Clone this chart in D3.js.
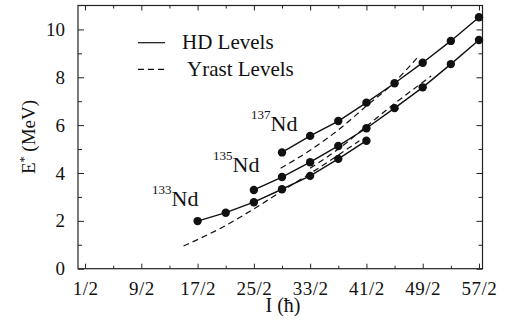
<!DOCTYPE html>
<html>
<head>
<meta charset="utf-8">
<script src="https://cdn.jsdelivr.net/npm/d3@7"></script>
<style>
  body { margin: 0; background: #fff; }
  svg { display: block; }
  svg text { font-family: "Liberation Serif", "Times New Roman", Times, "DejaVu Serif", "Noto Serif", serif; fill: #111; }
</style>
</head>
<body>
<svg id="canvas"></svg>
<script>
// Tick positions and labels (spin in units of hbar).
var xTicks = [0.5, 4.5, 8.5, 12.5, 16.5, 20.5, 24.5, 28.5];
var xTickLabels = ['1/2', '9/2', '17/2', '25/2', '33/2', '41/2', '49/2', '57/2'];
var xMinorTicks = [2.5, 6.5, 10.5, 14.5, 18.5, 22.5, 26.5];
var yTicks = [0, 2, 4, 6, 8, 10];
var yMinorTicks = [1, 3, 5, 7, 9];

// HD levels, spin I and excitation energy (MeV).
var nd133I = [8.5, 10.5, 12.5, 14.5, 16.5, 18.5, 20.5];
var nd133E = [1.99, 2.34, 2.78, 3.32, 3.88, 4.59, 5.35];
var nd135I = [12.5, 14.5, 16.5, 18.5, 20.5, 22.5, 24.5, 26.5, 28.5];
var nd135E = [3.29, 3.83, 4.45, 5.13, 5.87, 6.71, 7.58, 8.55, 9.56];
var nd137I = [14.5, 16.5, 18.5, 20.5, 22.5, 24.5, 26.5, 28.5];
var nd137E = [4.86, 5.55, 6.17, 6.94, 7.75, 8.61, 9.52, 10.51];

// Yrast levels (dashed).
var yrast133I = [7.5, 10.0, 12.5, 14.5, 16.5, 18.5, 20.0];
var yrast133E = [0.95, 1.65, 2.5, 3.25, 3.98, 4.75, 5.35];
var yrast135I = [16.5, 18.5, 20.5, 22.5, 25.1];
var yrast135E = [4.2, 5.0, 5.95, 6.9, 8.05];
var yrast137I = [14.4, 16.5, 18.5, 20.5, 22.5, 24.2];
var yrast137E = [4.2, 4.95, 5.8, 6.8, 7.8, 8.88];

// Canvas properties.
var canvas = { width: 505, height: 322 };
var plot = { left: 78, right: 482.5, top: 5.5, bottom: 268.7 };
var serif = '"Liberation Serif", "Times New Roman", Times, "DejaVu Serif", serif';

var svg = d3.select('#canvas')
  .attr('width', canvas.width)
  .attr('height', canvas.height);

var x = d3.scaleLinear().domain([0, 28.75]).range([plot.left, plot.right]);
var y = d3.scaleLinear().domain([0, 11]).range([plot.bottom, plot.top]);

// Pair up two arrays into points.
function zip(a, b) {
  return a.map(function(v, i) { return [v, b[i]]; });
}

var line = d3.line()
  .x(function(d) { return x(d[0]); })
  .y(function(d) { return y(d[1]); });

var curve = d3.line()
  .x(function(d) { return x(d[0]); })
  .y(function(d) { return y(d[1]); })
  .curve(d3.curveMonotoneX);

// Axes: ticks point inward, mirrored on all four sides.
function styleAxis(g) {
  g.attr('font-family', serif).attr('font-size', 19);
  g.select('.domain').remove();
  g.selectAll('.tick line').attr('stroke', '#222').attr('stroke-width', 1);
}

svg.append('g')
  .attr('transform', 'translate(0,' + plot.bottom + ')')
  .call(d3.axisBottom(x).tickValues(xTicks).tickSize(-5).tickPadding(9)
    .tickFormat(function(d, i) { return xTickLabels[i]; }))
  .call(styleAxis)
  .selectAll('text').attr('dy', '0.9em').style('letter-spacing', '0.5px');

svg.append('g')
  .attr('transform', 'translate(0,' + plot.bottom + ')')
  .call(d3.axisBottom(x).tickValues(xMinorTicks).tickSize(-3).tickFormat(''))
  .call(styleAxis);

svg.append('g')
  .attr('transform', 'translate(0,' + plot.top + ')')
  .call(d3.axisTop(x).tickValues(xTicks).tickSize(-5).tickFormat(''))
  .call(styleAxis);

svg.append('g')
  .attr('transform', 'translate(0,' + plot.top + ')')
  .call(d3.axisTop(x).tickValues(xMinorTicks).tickSize(-3).tickFormat(''))
  .call(styleAxis);

svg.append('g')
  .attr('transform', 'translate(' + plot.left + ',0)')
  .call(d3.axisLeft(y).tickValues(yTicks).tickSize(-6).tickPadding(13))
  .call(styleAxis);

svg.append('g')
  .attr('transform', 'translate(' + plot.left + ',0)')
  .call(d3.axisLeft(y).tickValues(yMinorTicks).tickSize(-4).tickFormat(''))
  .call(styleAxis);

svg.append('g')
  .attr('transform', 'translate(' + plot.right + ',0)')
  .call(d3.axisRight(y).tickValues(yTicks).tickSize(-6).tickFormat(''))
  .call(styleAxis);

svg.append('g')
  .attr('transform', 'translate(' + plot.right + ',0)')
  .call(d3.axisRight(y).tickValues(yMinorTicks).tickSize(-4).tickFormat(''))
  .call(styleAxis);

// Frame.
svg.append('rect')
  .attr('x', plot.left)
  .attr('y', plot.top)
  .attr('width', plot.right - plot.left)
  .attr('height', plot.bottom - plot.top)
  .attr('fill', 'none')
  .attr('stroke', '#222')
  .attr('stroke-width', 1.2);

// Axis titles.
svg.append('text')
  .attr('x', 283)
  .attr('y', 312)
  .attr('text-anchor', 'middle')
  .attr('font-family', serif)
  .style('font-size', '20px')
  .text('I (\u0127)');

var yTitle = svg.append('text')
  .attr('text-anchor', 'middle')
  .attr('font-family', serif)
  .attr('transform', 'translate(35,137) rotate(-90)')
  .style('font-size', '19px');
yTitle.append('tspan').text('E');
yTitle.append('tspan').attr('dy', -7).style('font-size', '12px').text('*');
yTitle.append('tspan').attr('dy', 7).text(' (MeV)');

// Yrast levels (dashed).
[zip(yrast133I, yrast133E), zip(yrast135I, yrast135E), zip(yrast137I, yrast137E)]
  .forEach(function(pts) {
    svg.append('path')
      .attr('d', curve(pts))
      .attr('fill', 'none')
      .attr('stroke', '#111')
      .attr('stroke-width', 1.2)
      .attr('stroke-dasharray', '6,4');
  });

// HD levels (solid with dots).
[zip(nd133I, nd133E), zip(nd135I, nd135E), zip(nd137I, nd137E)]
  .forEach(function(pts) {
    svg.append('path')
      .attr('d', line(pts))
      .attr('fill', 'none')
      .attr('stroke', '#111')
      .attr('stroke-width', 1.4);
    svg.selectAll(null)
      .data(pts)
      .enter()
      .append('circle')
      .attr('cx', function(d) { return x(d[0]); })
      .attr('cy', function(d) { return y(d[1]); })
      .attr('r', 4.2)
      .attr('fill', '#111');
  });

// Isotope labels.
function isotope(label, mass, xPos, yPos) {
  var t = svg.append('text').attr('x', xPos).attr('y', yPos).attr('font-family', serif);
  t.append('tspan').attr('dy', -12).style('font-size', '13px').text(mass);
  t.append('tspan').attr('dy', 12).style('font-size', '22px').text(label);
}
isotope('Nd', '133', 152, 206);
isotope('Nd', '135', 213, 172);
isotope('Nd', '137', 251, 131);

// Legend.
var legendItems = ['HD Levels', 'Yrast Levels'];
var legendDash = ['none', '6,4'];
legendItems.forEach(function(d, i) {
  var ly = 42.7 + i * 26.6;
  svg.append('line')
    .attr('x1', 138).attr('x2', 165)
    .attr('y1', ly).attr('y2', ly)
    .attr('stroke', '#111')
    .attr('stroke-width', 1.2)
    .attr('stroke-dasharray', legendDash[i]);
  svg.append('text')
    .attr('x', i === 0 ? 182 : 187)
    .attr('y', ly + 6.5)
    .attr('font-family', serif)
    .style('font-size', '21px')
    .text(d);
});
</script>
</body>
</html>
